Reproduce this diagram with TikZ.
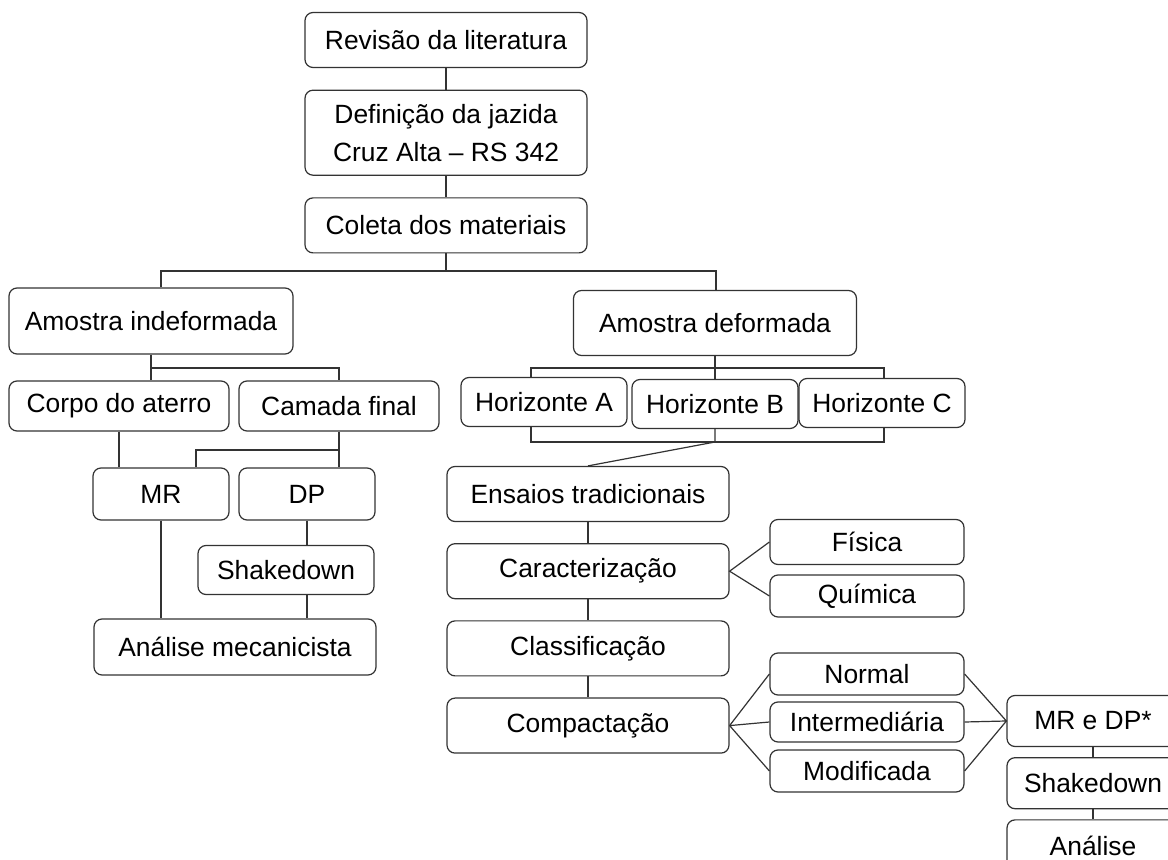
\documentclass[tikz,border=0pt]{standalone}
\usepackage{fontspec}
\setmainfont{Liberation Sans}
\usetikzlibrary{calc,positioning}

\begin{document}
\begin{tikzpicture}[x=0.5pt, y=-0.5pt, align=center,
      font=\fontsize{13.2}{19}\selectfont,
      block/.style={draw=black!80, line width=0.6pt, rounded corners=4pt, inner sep=0pt},
      main/.style ={block, minimum width=141pt, minimum height=27.5pt},
      horiz/.style={block, minimum width=83pt,  minimum height=24.5pt},
      side/.style ={block, minimum width=97pt,  minimum height=21pt},
      test/.style ={block, minimum width=86pt,  minimum height=25.5pt},  ]

    \useasboundingbox (0,0) rectangle (1168,860);
    \clip (0,0) rectangle (1168,860);
    \fill[white] (0,0) rectangle (1168,860);

    % tronco
    \begin{scope}[node distance=10.75pt]
      \node[main                                 ] at (446,40) (rev) {Revisão da literatura};
      \node[main, minimum height=42.5pt, below = of rev] (def) {Definição da jazida\\ Cruz Alta – RS 342};
      \node[main, below = of def                 ] (col) {Coleta dos materiais};
    \end{scope}

    % amostra indeformada
    \node[main, minimum width=142pt, minimum height=33pt] at (151,321) (indef)  {Amostra indeformada};
    \node[block, minimum width=110pt, minimum height=25pt] at (119,406) (corpo)  {Corpo do aterro};
    \node[block, minimum width=100pt, minimum height=25pt] at (339,406) (camada) {Camada final};
    \node[block, minimum width=68pt,  minimum height=26pt] at (161,494) (mr)     {MR};
    \node[block, minimum width=68pt,  minimum height=26pt] at (307,494) (dp)     {DP};
    \node[block, minimum width=88pt,  minimum height=24.5pt] at (286,570) (shk)  {Shakedown};
    \node[main,  minimum height=28pt] at (235,647) (mec) {Análise mecanicista};

    % amostra deformada
    \node[main, minimum width=141.5pt, minimum height=32.5pt] at (715,323) (deform) {Amostra deformada};
    \node[horiz] at (544,402) (hA) {Horizonte A};
    \node[horiz] at (715,404) (hB) {Horizonte B};
    \node[horiz] at (882,403) (hC) {Horizonte C};

    \begin{scope}[node distance=10.5pt]
      \node[main                 ] at (588,494) (ens) {Ensaios tradicionais};
      \node[main, below = of ens ] (car) {Caracterização};
      \node[main, below = of car ] (cla) {Classificação};
      \node[main, below = of cla ] (com) {Compactação};
    \end{scope}

    \node[side, minimum height=22.5pt] at (867,542) (fis) {Física};
    \node[side                       ] at (867,596) (qui) {Química};
    \node[side                       ] at (867,674) (nor) {Normal};
    \node[side, minimum height=20pt  ] at (867,722) (int) {Intermediária};
    \node[side                       ] at (867,771) (mod) {Modificada};

    \begin{scope}[node distance=5pt]
      \node[test                      ] at (1093,721) (mrdp) {MR e DP*};
      \node[test, below = of mrdp     ] (shk2) {Shakedown};
      \node[test, minimum height=26pt, below = of shk2] (anl) {Análise};
    \end{scope}

    \begin{scope}[draw=black!80, line width=0.6pt]
      % ligações do tronco
      \draw (rev) -- (def) (def) -- (col);
      \coordinate (t1) at (161,271);
      \coordinate (t2) at (716,271);
      \draw (col) -- (col |- t1);
      \draw (t1 |- indef.north) -- (t1) -- (t2) -- (t2 |- deform.north);

      % lado esquerdo
      \coordinate (a1) at (151,368);
      \coordinate (a2) at (339,368);
      \coordinate (b1) at (196,450);
      \draw (indef) -- (a1 |- corpo.north);
      \draw (a1) -- (a2) -- (a2 |- camada.north);
      \draw (corpo)  -- (corpo |- mr.north);
      \draw (camada) -- (camada |- dp.north);
      \draw (b1 -| camada) -- (b1) -- (b1 |- mr.north);
      \draw (mr) -- (mr |- mec.north);
      \draw (dp) -- (dp |- shk.north);
      \draw (dp |- shk.south) -- (dp |- mec.north);

      % lado direito
      \coordinate (d1) at (531,368);
      \coordinate (d2) at (884,368);
      \coordinate (e1) at (531,442);
      \coordinate (e2) at (884,442);
      \draw (deform) -- (deform |- d1);
      \draw (d1 |- hA.north) -- (d1) -- (d2) -- (d2 |- hC.north);
      \draw (hB) -- (hB |- d1);
      \draw (e1 |- hA.south) -- (e1) -- (e2) -- (e2 |- hC.south);
      \draw (hB) -- (hB |- e1) -- (ens.north);

      \draw (ens) -- (car) (car) -- (cla) (cla) -- (com);
      \draw (fis.west) -- (car.east) -- (qui.west);
      \draw (com.east) -- (nor.west) (com.east) -- (int.west) (com.east) -- (mod.west);
      \draw (nor.east) -- (mrdp.west) -- (mod.east) (int.east) -- (mrdp.west);
      \draw (mrdp) -- (shk2) (shk2) -- (anl);
    \end{scope}

  \end{tikzpicture}
\end{document}
